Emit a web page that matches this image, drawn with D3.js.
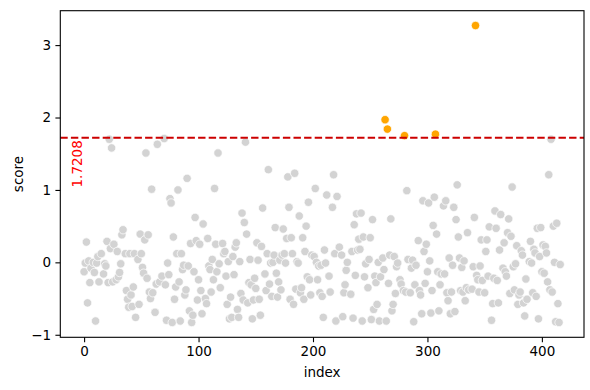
<!DOCTYPE html>
<html>
<head>
<meta charset="utf-8">
<script src="https://cdn.jsdelivr.net/npm/d3@7"></script>
<style>
  body { margin: 0; background: #fff; }
  text { font-family: "DejaVu Sans", sans-serif; }
</style>
</head>
<body>
<div id="chart"></div>
<script>
// Data (index, score)
const index = [
  0,1,2,3,4,5,6,8,9,10,11,12,13,15,17,18,19,20,21,22,23,24,25,26,28,29,30,31,32,33,34,36,37,38,39,
  40,41,42,43,44,45,47,48,49,50,51,52,53,54,55,56,57,58,59,60,62,63,64,66,68,70,71,72,73,74,75,76,77,78,79,
  80,81,82,83,84,85,86,87,88,89,90,91,92,93,94,95,96,97,98,99,
  100,101,102,103,104,106,107,108,109,110,111,112,113,114,115,116,117,118,119,121,122,123,124,125,126,127,128,129,
  130,131,132,133,134,135,136,137,138,139,140,141,142,143,144,145,146,147,148,149,
  150,151,152,153,154,155,156,158,159,160,161,162,163,164,165,166,167,168,169,170,171,172,173,174,175,176,177,178,179,
  180,181,182,183,184,185,186,187,188,189,190,191,192,193,194,195,196,197,198,199,
  201,202,203,204,205,206,207,208,209,210,211,212,214,215,217,218,219,220,221,223,225,226,227,228,229,
  230,233,234,235,236,237,238,239,240,241,242,243,244,245,246,248,249,250,251,252,253,254,255,256,257,258,259,
  261,262,263,264,265,266,267,268,269,270,271,272,273,274,276,277,279,280,281,282,283,285,286,287,288,289,290,
  292,293,294,295,296,297,298,299,300,301,302,303,304,305,306,307,308,309,310,311,312,314,315,316,317,318,319,
  320,321,322,323,324,325,326,327,328,329,330,331,332,333,334,335,336,339,340,341,342,343,344,345,346,347,348,
  350,351,352,353,354,356,357,358,359,360,361,362,363,364,366,367,368,369,370,371,372,373,374,375,376,377,378,379,
  380,381,382,383,384,385,386,387,389,390,391,392,393,394,395,396,397,398,399,
  400,401,402,403,404,405,406,407,408,409,410,411,412,413,414,415,416
];
const score = [
  -0.13,-0.01,0.28,-0.56,0.02,-0.28,-0.08,0.00,-0.14,-0.81,-0.01,0.08,-0.27,0.12,-0.16,-0.02,-0.05,0.29,-0.28,1.70,0.19,1.58,-0.27,0.25,-0.24,0.15,-0.20,-0.14,-0.02,0.38,0.45,0.12,-0.39,-0.51,-0.62,
  0.12,-0.45,-0.61,-0.34,0.12,-0.76,0.04,-0.58,0.39,0.12,-0.07,-0.15,0.31,1.51,-0.22,0.38,-0.41,-0.50,1.01,-0.42,-0.69,-0.30,1.63,-0.27,-0.19,1.71,-0.31,-0.80,-0.01,-0.17,0.88,0.82,-0.83,0.35,-0.51,
  -0.34,0.12,1.00,-0.27,-0.81,0.12,-0.10,-0.04,-0.45,-0.38,1.16,-0.05,-0.67,0.26,-0.83,-0.73,-0.13,0.62,0.30,-0.52,
  -0.24,0.25,-0.39,-0.71,0.53,-0.50,-0.57,0.33,-0.05,-0.10,-0.41,0.04,-0.24,1.02,0.25,-0.13,1.51,-0.02,-0.35,0.26,0.12,0.15,-0.19,-0.58,0.01,-0.78,-0.48,-0.76,
  0.08,-0.17,0.21,0.27,-0.65,-0.76,0.01,-0.43,0.68,-0.52,0.55,1.66,0.39,-0.56,-0.28,0.04,-0.31,-0.78,-0.52,-0.22,
  -0.36,0.27,0.03,-0.51,-0.73,0.22,0.75,-0.16,-0.39,0.12,1.28,-0.30,-0.01,-0.47,0.00,0.10,0.48,-0.15,-0.48,-0.27,0.03,-0.38,0.10,0.46,0.12,-0.01,0.33,1.18,0.76,
  -0.51,0.34,0.12,-0.58,1.23,-0.37,0.01,-0.01,0.64,-0.42,-0.35,0.34,-0.51,0.15,0.50,-0.20,0.83,-0.24,-0.45,0.10,
  0.08,1.02,0.00,-0.24,-0.05,-0.42,-0.04,-0.47,-0.76,0.17,-0.01,0.93,-0.19,-0.41,0.76,1.21,0.12,-0.81,0.91,0.21,0.10,-0.75,-0.42,-0.31,-0.11,
  0.00,-0.44,0.15,-0.77,0.52,-0.18,0.67,0.17,0.32,0.18,0.68,-0.81,0.35,-0.20,-0.02,-0.35,0.04,0.34,-0.79,0.59,-0.65,-0.19,-0.28,-0.58,0.00,-0.81,-0.20,
  0.06,-0.10,1.97,-0.81,1.84,-0.29,0.10,0.60,-0.67,-0.58,0.08,-0.43,-0.06,-0.01,-0.24,-0.30,-0.39,1.75,-0.41,0.99,0.04,-0.42,-0.08,0.03,-0.82,-0.31,-0.04,
  0.30,-0.39,-0.45,-0.71,0.85,0.15,-0.29,0.25,-0.13,0.82,0.02,-0.70,-0.39,0.51,0.90,1.77,0.39,-0.13,-0.67,-0.31,-0.16,0.78,-0.16,0.85,-0.42,-0.53,0.06,
  -0.71,-0.41,-0.04,0.76,-0.68,0.59,1.07,0.35,0.06,-0.39,-0.07,-0.41,0.02,-0.53,-0.35,0.41,-0.38,-0.37,-0.06,0.62,3.27,-0.18,-0.24,-0.41,-0.05,0.31,-0.25,
  -0.42,0.15,0.31,-0.19,0.49,-0.80,-0.57,-0.22,0.71,0.47,-0.25,-0.56,0.17,0.66,-0.08,0.27,-0.13,-0.19,0.41,0.60,-0.43,0.36,1.04,-0.06,-0.38,-0.02,0.23,-0.58,
  -0.45,-0.41,0.16,0.10,-0.56,-0.74,-0.23,-0.51,0.01,0.29,-0.01,-0.42,0.18,0.13,-0.47,0.47,-0.78,0.08,0.48,
  -0.13,0.24,-0.15,0.22,0.13,-0.27,1.21,-0.38,1.70,-0.41,0.50,0.00,-0.82,0.54,-0.57,-0.83,-0.03
];
const threshold = 1.7208;
const xTicks = [0, 100, 200, 300, 400];
const yTicks = [-1, 0, 1, 2, 3];

const width = 590, height = 390;
const margin = { top: 10.7, right: 6, bottom: 52.7, left: 60.3 };

const svg = d3.select("#chart").append("svg")
  .attr("width", width)
  .attr("height", height);

// matplotlib-style 5% margins around the data
function padded(ext) {
  const p = (ext[1] - ext[0]) * 0.05;
  return [ext[0] - p, ext[1] + p];
}

const x = d3.scaleLinear()
  .domain(padded(d3.extent(index)))
  .range([margin.left, width - margin.right]);
const y = d3.scaleLinear()
  .domain(padded(d3.extent(score)))
  .range([height - margin.bottom, margin.top]);

const points = index.map((d, i) => ({ index: d, score: score[i] }));

svg.append("g")
  .selectAll("circle")
  .data(points)
  .enter()
  .append("circle")
  .attr("cx", d => x(d.index))
  .attr("cy", d => y(d.score))
  .attr("r", 4.2)
  .attr("fill", d => d.score > threshold ? "#ffa500" : "#d3d3d3")
  .attr("stroke", "#fff")
  .attr("stroke-width", 0.7);

// threshold line
svg.append("line")
  .attr("x1", margin.left)
  .attr("x2", width - margin.right)
  .attr("y1", y(threshold))
  .attr("y2", y(threshold))
  .attr("stroke", "#cc0000")
  .attr("stroke-width", 2)
  .attr("stroke-dasharray", "7.4,3.2");

svg.append("text")
  .attr("transform", `translate(${x(-6)},${y(threshold) + 2.5}) rotate(-90)`)
  .attr("text-anchor", "end")
  .attr("dominant-baseline", "central")
  .attr("fill", "red")
  .style("font-size", "13.5px")
  .text(threshold.toFixed(4));

// axes
const fmt = d => d < 0 ? "\u2212" + Math.abs(d) : String(d);
const xAxis = svg.append("g")
  .attr("transform", `translate(0,${height - margin.bottom})`)
  .call(d3.axisBottom(x).tickValues(xTicks).tickFormat(fmt).tickSize(4.9).tickPadding(4.2));
const yAxis = svg.append("g")
  .attr("transform", `translate(${margin.left},0)`)
  .call(d3.axisLeft(y).tickValues(yTicks).tickFormat(fmt).tickSize(4.9).tickPadding(4.2));

[xAxis, yAxis].forEach(g => {
  g.select(".domain").remove();
  g.selectAll("line").attr("stroke", "#000").attr("stroke-width", 1.1);
  g.selectAll("text").attr("fill", "#000").style("font-size", "13.5px").style("font-family", "DejaVu Sans");
});

// frame
svg.append("rect")
  .attr("x", margin.left)
  .attr("y", margin.top)
  .attr("width", width - margin.right - margin.left)
  .attr("height", height - margin.bottom - margin.top)
  .attr("fill", "none")
  .attr("stroke", "#000")
  .attr("stroke-width", 1.1);

svg.append("text")
  .attr("x", (margin.left + width - margin.right) / 2)
  .attr("y", 377)
  .attr("text-anchor", "middle")
  .style("font-size", "13.5px")
  .text("index");

svg.append("text")
  .attr("transform", `translate(18,${(margin.top + height - margin.bottom) / 2}) rotate(-90)`)
  .attr("text-anchor", "middle")
  .attr("dominant-baseline", "central")
  .style("font-size", "13.5px")
  .text("score");
</script>
</body>
</html>
